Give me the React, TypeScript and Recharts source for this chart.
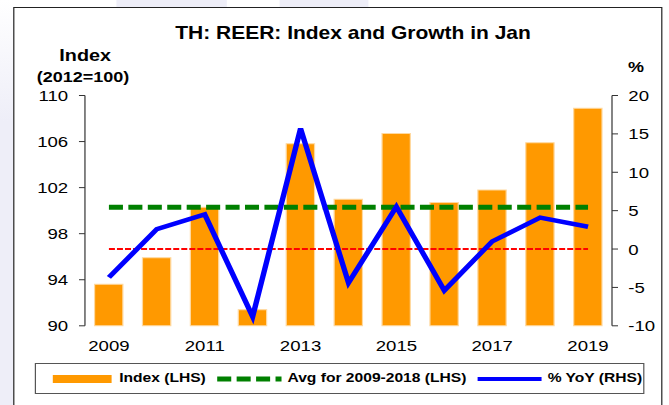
import React from 'react';
import { ComposedChart, Bar, Line, XAxis, YAxis } from 'recharts';

// values
const years = [2009, 2010, 2011, 2012, 2013, 2014, 2015, 2016, 2017, 2018, 2019];
const indexValues = [93.6, 95.9, 100.3, 91.4, 105.8, 101.0, 106.7, 100.7, 101.8, 105.9, 108.9];
const yoyValues = [-3.7, 2.6, 4.5, -8.8, 15.7, -4.4, 5.5, -5.4, 1.0, 4.1, 2.9];
const avgLevel = 100.3; // avg for 2009-2018, LHS
const zeroLevel = 0; // RHS zero line

const indexTicks = [90, 94, 98, 102, 106, 110];
const pctTicks = [-10, -5, 0, 5, 10, 15, 20];
const yearLabelTicks = [2009, 2011, 2013, 2015, 2017, 2019];
const yearMarkTicks = [2008.5, 2009.5, 2010.5, 2011.5, 2012.5, 2013.5, 2014.5, 2015.5, 2016.5, 2017.5, 2018.5, 2019.5];

const data = years.map((year, i) => ({
  year,
  index: indexValues[i],
  yoy: yoyValues[i],
  avg: avgLevel,
  zero: zeroLevel,
}));

// the reference is stretched sideways, so draw narrower and scale x
const S = 1.2;
const W = 669 / S;
const FONT = '"Liberation Sans", Arial, sans-serif';
const AXIS = '#333';

const LegendBox: React.FC = () => (
  <div
    style={{
      position: 'absolute', left: 29.2, top: 363.3, width: 508.3, height: 31,
      border: '1.3px solid #555', boxSizing: 'border-box', background: '#fff',
      fontFamily: FONT, fontWeight: 'bold', fontSize: 13, color: '#000',
    }}
  >
    <div style={{ position: 'absolute', left: 13.6, top: 10.5, width: 49.4, height: 8.5, background: '#FF9900' }} />
    <span style={{ position: 'absolute', left: 69.1, top: 6, lineHeight: '16px' }}>Index (LHS)</span>
    <svg style={{ position: 'absolute', left: 151.2, top: 9, overflow: 'visible' }} width={54} height={12}>
      <line x1={0} y1={6} x2={53.6} y2={6} stroke="#008000" strokeWidth={5} strokeDasharray="11.7 4.5" />
    </svg>
    <span style={{ position: 'absolute', left: 209.4, top: 6, lineHeight: '16px' }}>Avg for 2009-2018 (LHS)</span>
    <svg style={{ position: 'absolute', left: 368.3, top: 9, overflow: 'visible' }} width={54} height={12}>
      <line x1={0} y1={6} x2={53.3} y2={6} stroke="#0000FF" strokeWidth={4} />
    </svg>
    <span style={{ position: 'absolute', left: 426.2, top: 6, lineHeight: '16px' }}>% YoY (RHS)</span>
  </div>
);

export default function App() {
  return (
    <div style={{ position: 'absolute', left: 0, top: 0, width: 669, height: 405, overflow: 'hidden', background: '#fff' }}>
      <div style={{ position: 'absolute', left: 0, top: 0, width: W, height: 405, transform: `scaleX(${S})`, transformOrigin: '0 0' }}>
        {/* backdrop */}
        <div style={{ position: 'absolute', left: 0, top: 0, width: 12, height: 405, background: 'linear-gradient(#fff 0%, #eeeef8 30%, #eeeef8 100%)' }} />
        <div style={{ position: 'absolute', left: 97, top: 0, width: 92, height: 7, background: '#eeeef8' }} />
        <div style={{ position: 'absolute', left: 233, top: 0, width: 74, height: 7, background: '#eeeef8' }} />
        <div
          style={{
            position: 'absolute', left: 11.1, top: 7, width: 541.2, height: 420,
            border: '1.7px solid #222', boxSizing: 'border-box', background: '#fff',
          }}
        />

        <div style={{ position: 'absolute', left: 0, top: 0 }}>
          <ComposedChart
            width={W}
            height={405}
            data={data}
            margin={{ top: 95.5, right: 7.5, bottom: 39.2, left: 20.8 }}
            style={{ fontFamily: FONT }}
          >
            <XAxis
              xAxisId="marks"
              type="number"
              dataKey="year"
              domain={[2008.5, 2019.5]}
              ticks={yearMarkTicks}
              interval={0}
              tick={false}
              tickSize={5}
              height={0}
              stroke={AXIS}
              allowDataOverflow
            />
            <XAxis
              xAxisId="yr"
              type="number"
              dataKey="year"
              domain={[2008.5, 2019.5]}
              ticks={yearLabelTicks}
              interval={0}
              tickLine={false}
              axisLine={false}
              tickSize={5}
              tickMargin={9}
              height={40}
              tick={{ fill: '#000', fontSize: 15.5 }}
              allowDataOverflow
            />
            <YAxis
              yAxisId="idx"
              domain={[90, 110]}
              ticks={indexTicks}
              interval={0}
              tickSize={5}
              tickMargin={9}
              width={50}
              stroke={AXIS}
              tick={{ fill: '#000', fontSize: 15.5 }}
            />
            <YAxis
              yAxisId="pct"
              orientation="right"
              domain={[-10, 20]}
              ticks={pctTicks}
              interval={0}
              tickSize={5}
              tickMargin={8.6}
              width={40}
              stroke={AXIS}
              tick={{ fill: '#000', fontSize: 15.5 }}
            />
            <Bar
              xAxisId="yr"
              yAxisId="idx"
              dataKey="index"
              name="Index (LHS)"
              fill="#FF9900"
              stroke="#FFD9A0"
              strokeWidth={1}
              barSize={23.6}
              isAnimationActive={false}
            />
            <Line
              xAxisId="yr"
              yAxisId="pct"
              dataKey="zero"
              stroke="#FF0000"
              strokeWidth={2}
              strokeDasharray="5 1.7"
              dot={false}
              activeDot={false}
              isAnimationActive={false}
            />
            <Line
              xAxisId="yr"
              yAxisId="idx"
              dataKey="avg"
              name="Avg for 2009-2018 (LHS)"
              stroke="#008000"
              strokeWidth={5}
              strokeDasharray="11.7 4.5"
              dot={false}
              activeDot={false}
              isAnimationActive={false}
            />
            <Line
              xAxisId="yr"
              yAxisId="pct"
              dataKey="yoy"
              name="% YoY (RHS)"
              type="linear"
              stroke="#0000FF"
              strokeWidth={4.5}
              dot={false}
              activeDot={false}
              isAnimationActive={false}
            />
          </ComposedChart>
        </div>

        <svg
          width={W}
          height={405}
          style={{ position: 'absolute', left: 0, top: 0, pointerEvents: 'none' }}
          fontFamily={FONT}
          fontWeight="bold"
        >
          <text x={294.2} y={39.3} textAnchor="middle" fontSize={17.5}>TH: REER: Index and Growth in Jan</text>
          <text x={71} y={61} textAnchor="middle" fontSize={16.5}>Index</text>
          <text x={69.2} y={81.7} textAnchor="middle" fontSize={15}>(2012=100)</text>
          <text x={530} y={71.7} textAnchor="middle" fontSize={15}>%</text>
        </svg>

        <LegendBox />
      </div>
    </div>
  );
}
